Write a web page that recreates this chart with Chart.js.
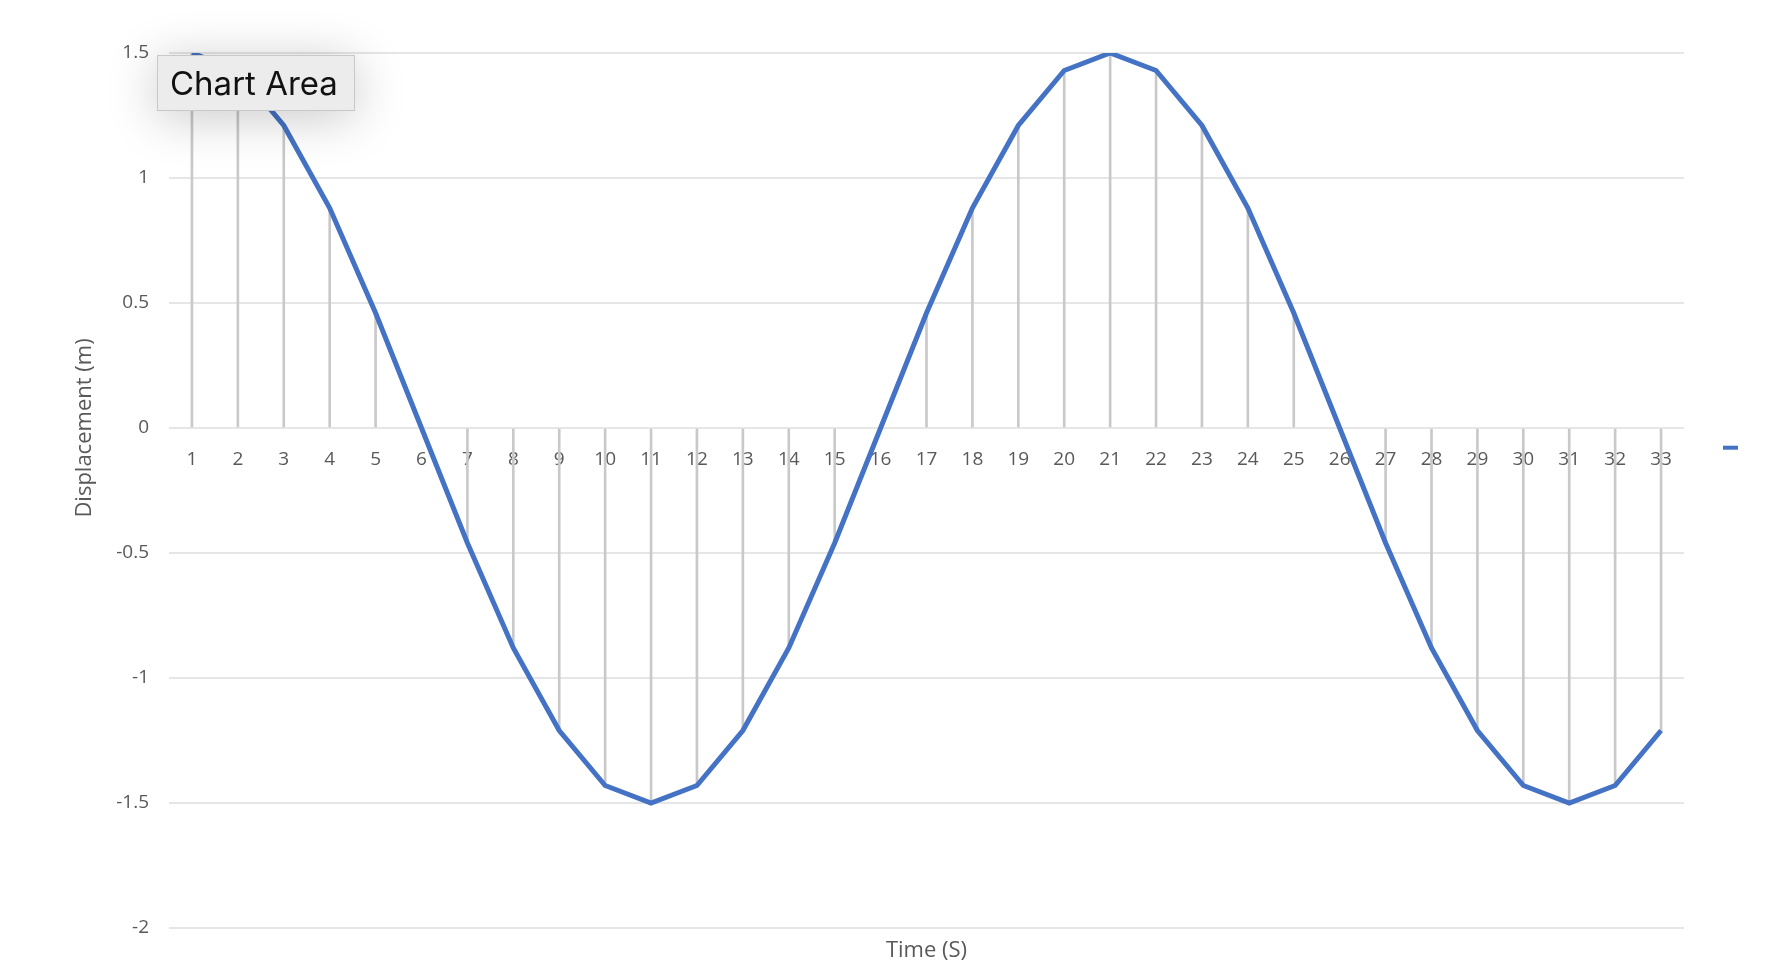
<!DOCTYPE html>
<html>
<head>
<meta charset="utf-8">
<title>Displacement vs Time</title>
<script src="https://cdn.jsdelivr.net/npm/chart.js@4.4.1/dist/chart.umd.min.js"></script>
<style>
  body { margin: 0; background: #fff; }
  #wrap { position: relative; width: 1782px; height: 976px; }
  #tip {
    position: absolute; left: 157px; top: 55px; width: 198px; height: 56px;
    background: #ececec; border: 1px solid #c8c8c8;
    box-shadow: 0 6px 50px rgba(0, 0, 0, 0.22);
    font-family: Inter, "Noto Sans", sans-serif; font-size: 33px; color: #111;
    display: flex; align-items: center; padding-left: 12px; box-sizing: border-box;
  }
</style>
</head>
<body>
<div id="wrap">
  <canvas id="chart"></canvas>
  <div id="tip">Chart Area</div>
</div>
<script>
// time in seconds (category labels)
const timeLabels = ["1", "2", "3", "4", "5", "6", "7", "8", "9", "10", "11",
  "12", "13", "14", "15", "16", "17", "18", "19", "20", "21", "22",
  "23", "24", "25", "26", "27", "28", "29", "30", "31", "32", "33"];

// displacement (m)
const displacement = [1.5, 1.43, 1.21, 0.88, 0.46, 0, -0.46, -0.88, -1.21, -1.43, -1.5,
  -1.43, -1.21, -0.88, -0.46, 0, 0.46, 0.88, 1.21, 1.43, 1.5, 1.43,
  1.21, 0.88, 0.46, 0, -0.46, -0.88, -1.21, -1.43, -1.5, -1.43, -1.21];

const yMin = -2;
const yMax = 1.5;
const yStep = 0.5;

const textColor = "#595959";
const lineBlue = "#4472C4";
const yTitle = "Displacement (m)";

// y axis title, centred on the zero line like Excel puts it
const yTitlePlugin = {
  id: "yTitlePlugin",
  afterDraw: (chart) => {
    const { ctx, scales } = chart;
    const yMid = scales.y.getPixelForValue(0);
    ctx.save();
    ctx.translate(85, yMid);
    ctx.rotate(-Math.PI / 2);
    ctx.font = "22px 'Open Sans'";
    ctx.fillStyle = textColor;
    ctx.textAlign = "center";
    ctx.textBaseline = "middle";
    ctx.fillText(yTitle, 0, 0);
    ctx.restore();
  },
};

const ctx = document.getElementById("chart").getContext("2d");

new Chart(ctx, {
  type: "bar",
  data: {
    labels: timeLabels,
    datasets: [
      {
        type: "line",
        label: "Displacement",
        data: displacement,
        borderColor: lineBlue,
        backgroundColor: lineBlue,
        borderWidth: 5,
        pointRadius: 0,
        tension: 0,
        xAxisID: "x",
        yAxisID: "y",
        order: 0,
      },
      {
        // drop lines from each point to the axis
        type: "bar",
        label: "Drop lines",
        data: displacement,
        backgroundColor: "#c9c9c9",
        barThickness: 2,
        xAxisID: "x",
        yAxisID: "y",
        order: 1,
      },
    ],
  },
  options: {
    responsive: true,
    maintainAspectRatio: false,
    animation: false,
    events: [],
    layout: { padding: { top: 53, right: 28, bottom: 0, left: 0 } },
    scales: {
      x: {
        type: "category",
        position: "bottom",
        offset: true,
        grid: { display: false },
        border: { display: false },
        ticks: { display: false },
        title: {
          display: true,
          text: "Time (S)",
          color: textColor,
          font: { family: "'Open Sans'", size: 22 },
          padding: { top: 4, bottom: 12 },
        },
        afterFit: (scale) => { scale.height = 48; },
      },
      xl: {
        type: "category",
        position: { y: 0 },
        offset: true,
        grid: { display: false, drawTicks: false },
        border: { display: false },
        ticks: {
          color: textColor,
          font: { family: "'Open Sans'", size: 19 },
          padding: 20,
          maxRotation: 0,
          autoSkip: false,
        },
      },
      y: {
        min: yMin,
        max: yMax,
        grid: { color: "#e6e6e6", lineWidth: 2, drawTicks: false },
        border: { display: false },
        ticks: {
          stepSize: yStep,
          color: textColor,
          font: { family: "'Open Sans'", size: 19 },
          padding: 20,
          callback: (v) => String(v),
        },
        afterFit: (scale) => { scale.width = 169; },
      },
    },
    plugins: {
      legend: {
        display: true,
        position: "right",
        fullSize: false,
        title: { display: true, text: "", padding: { top: -50, bottom: -50 } },
        labels: {
          boxWidth: 15,
          boxHeight: 4,
          padding: 39,
          font: { size: 12 },
          generateLabels: (chart) => [{
            text: "",
            fillStyle: lineBlue,
            strokeStyle: lineBlue,
            lineWidth: 0,
            datasetIndex: 0,
          }],
        },
      },
      tooltip: { enabled: false },
    },
  },
  plugins: [yTitlePlugin],
});
</script>
</body>
</html>
